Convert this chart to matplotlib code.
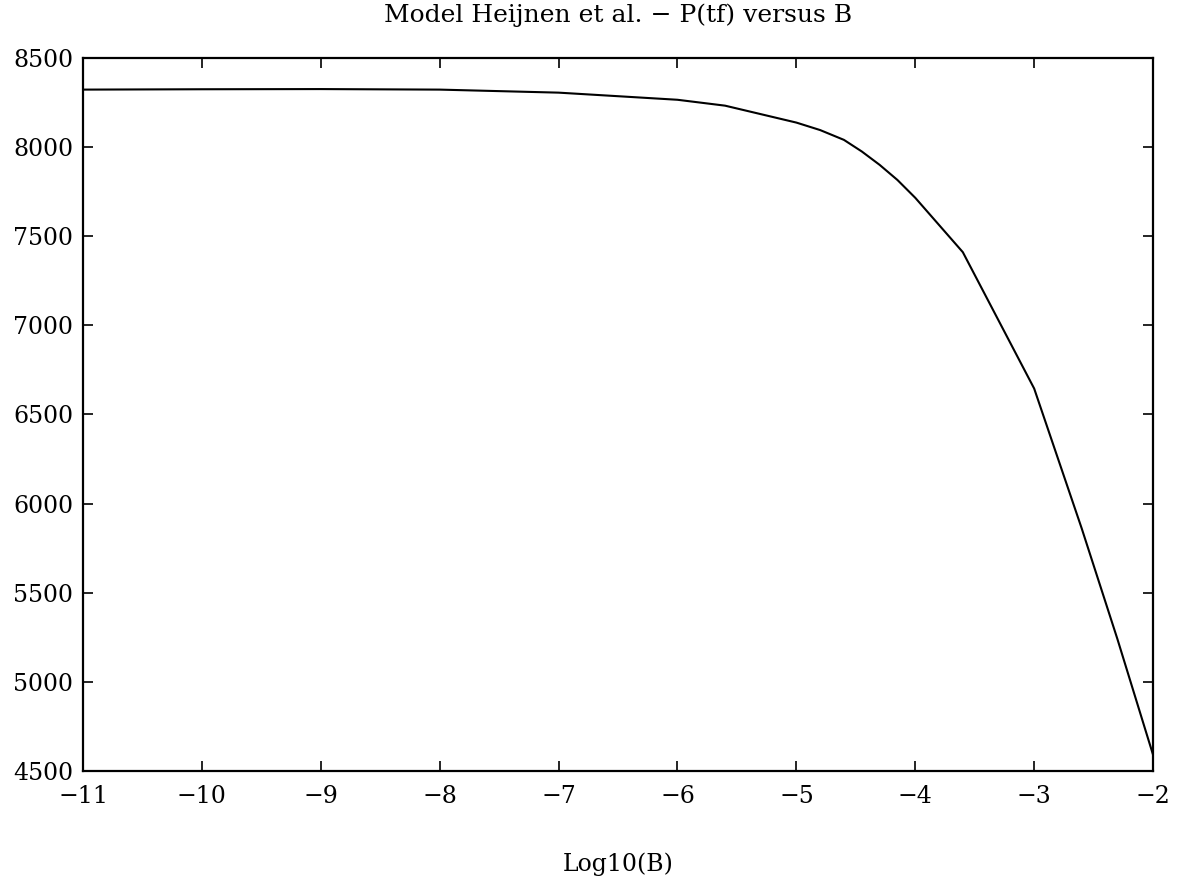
import numpy as np
import matplotlib.pyplot as plt

plt.rcParams['font.family'] = ['DejaVu Serif']

# log10(B) and P(tf)
logB = [-11, -10, -9, -8, -7, -6, -5.6, -5, -4.8, -4.6, -4.45, -4.3, -4.15, -4,
        -3.6, -3, -2.6, -2.3, -2]
Ptf = [8322, 8324, 8325, 8322, 8305, 8265, 8232, 8137, 8095, 8040, 7975, 7900, 7815, 7715,
       7410, 6645, 5860, 5240, 4590]

xticks = list(range(-11, -1))
yticks = list(range(4500, 8501, 500))

fig = plt.figure(figsize=(11.79, 8.77), dpi=100)
ax = fig.add_subplot(111)
fig.subplots_adjust(left=0.0704, right=0.978, top=0.934, bottom=0.121)

ax.plot(logB, Ptf, color='black', linewidth=1.5)

ax.set_xlim(-11, -2)
ax.set_ylim(4500, 8500)
ax.set_xticks(xticks)
ax.set_yticks(yticks)
ax.tick_params(direction='in', length=7, width=1.2, top=True, right=True,
               labelsize=17)
ax.tick_params(axis='x', pad=10)
ax.tick_params(axis='y', pad=7)
for s in ax.spines.values():
    s.set_linewidth(1.6)

ax.set_title('Model Heijnen et al. \u2212 P(tf) versus B', fontsize=18, pad=26)
ax.set_xlabel('Log10(B)', fontsize=17, labelpad=32)

plt.savefig('out.png', dpi=100)
